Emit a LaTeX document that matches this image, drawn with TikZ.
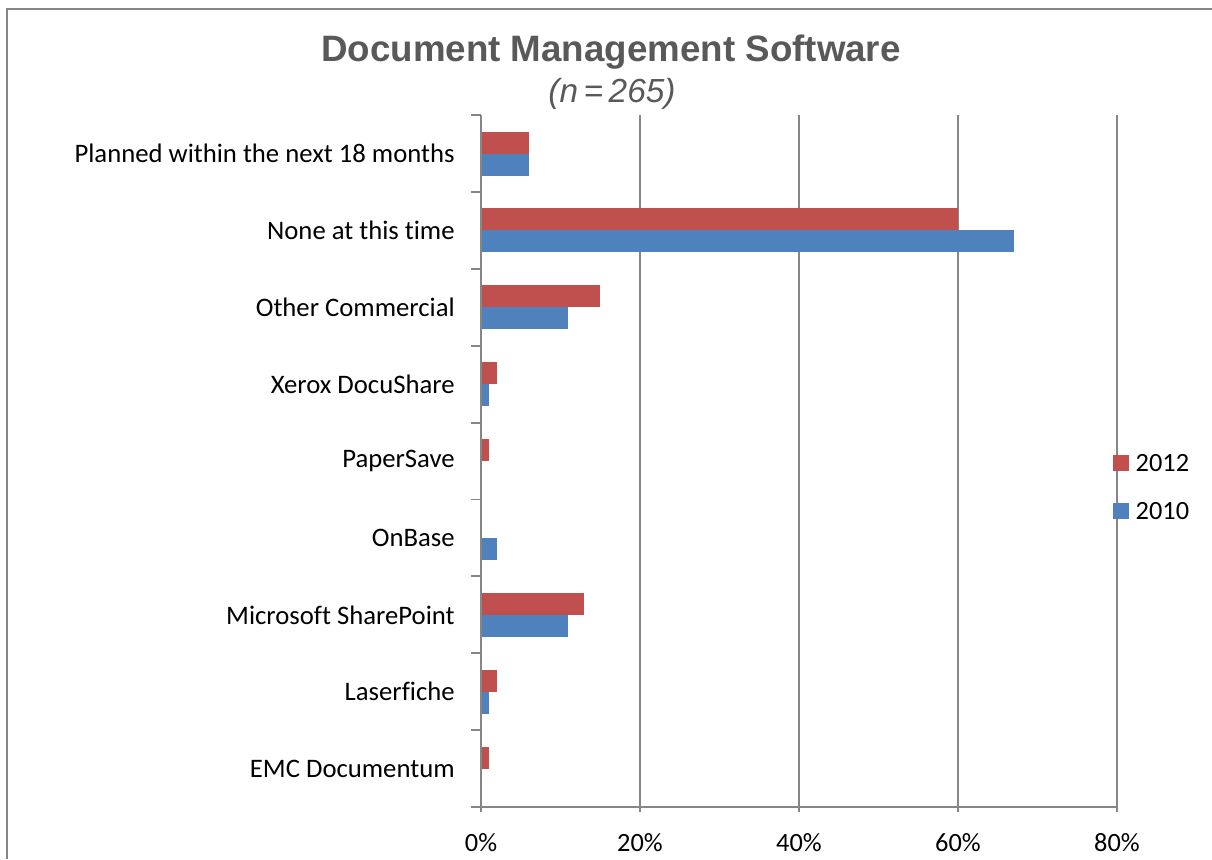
\documentclass[tikz,border=0pt]{standalone}
\usepackage{fontspec}
\setmainfont{Carlito}[Ligatures=NoCommon]
\newfontfamily\headfont{Liberation Sans}
\usetikzlibrary{positioning}
\definecolor{bar2012}{HTML}{C0504D}
\definecolor{bar2010}{HTML}{4F81BD}
\definecolor{axisgray}{HTML}{868686}
\definecolor{titlegray}{HTML}{595959}

\begin{document}
\begin{tikzpicture}[
    x=0.02cm, y=-0.02cm,
    node distance=0.12cm,
    titlenode/.style={font=\headfont\bfseries\fontsize{20.9}{25}\selectfont, text=titlegray},
    subnode/.style={font=\headfont\itshape\fontsize{19}{22}\selectfont, text=titlegray},
    catnode/.style={font=\fontsize{15.2}{18}\selectfont, anchor=east, inner sep=0pt},
    ticknode/.style={font=\fontsize{15}{18}\selectfont, inner sep=0pt},
    keynode/.style={minimum size=0.32cm, inner sep=0pt},
    gridline/.style={axisgray, line width=1.1pt}
]
\useasboundingbox (0,0) rectangle (1212,859);

% Chart frame
\draw[gridline] (7,859) -- (7,9) -- (1212,9);

% Title
\node[titlenode] (title) at (611,52) {Document Management Software};
\node[subnode] (subtitle) at (612,94) {(n\,=\,265)};

% Grid lines and value labels
\foreach \v in {20,40,60,80} {
    \draw[gridline] ({481+7.95*\v},115) -- ({481+7.95*\v},812);
}
\foreach \v in {0,20,40,60,80} {
    \node[ticknode] (tick\v) at ({481+7.95*\v},843) {\v\%};
}

% Bars - 2012 above, 2010 below
\foreach \i/\r/\b in {0/6/6, 1/60/67, 2/15/11, 3/2/1, 4/1/0, 5/0/2, 6/13/11, 7/2/1, 8/1/0} {
    \ifnum\r>0
        \fill[bar2012] (481,{131.5+76.9*\i}) rectangle ({481+7.95*\r},{153.5+76.9*\i});
    \fi
    \ifnum\b>0
        \fill[bar2010] (481,{153.5+76.9*\i}) rectangle ({481+7.95*\b},{175.5+76.9*\i});
    \fi
}

% Axes and category ticks
\draw[gridline] (481,115) -- (481,812);
\draw[gridline] (471,807) -- (1117,807);
\foreach \k in {0,...,8} {
    \draw[gridline] (471,{115+76.9*\k}) -- (481,{115+76.9*\k});
}

% Category labels
\foreach \i/\lab in {0/Planned within the next 18 months, 1/None at this time,
    2/Other Commercial, 3/Xerox DocuShare, 4/PaperSave, 5/OnBase,
    6/Microsoft SharePoint, 7/Laserfiche, 8/EMC Documentum} {
    \node[catnode] (cat\i) at (455,{153.5+76.9*\i}) {\lab};
}

% Legend
\node[keynode, fill=bar2012] (key2012) at (1121,463) {};
\node[ticknode, right=of key2012] (lab2012) {2012};
\node[keynode, fill=bar2010] (key2010) at (1121,511) {};
\node[ticknode, right=of key2010] (lab2010) {2010};

\end{tikzpicture}
\end{document}
